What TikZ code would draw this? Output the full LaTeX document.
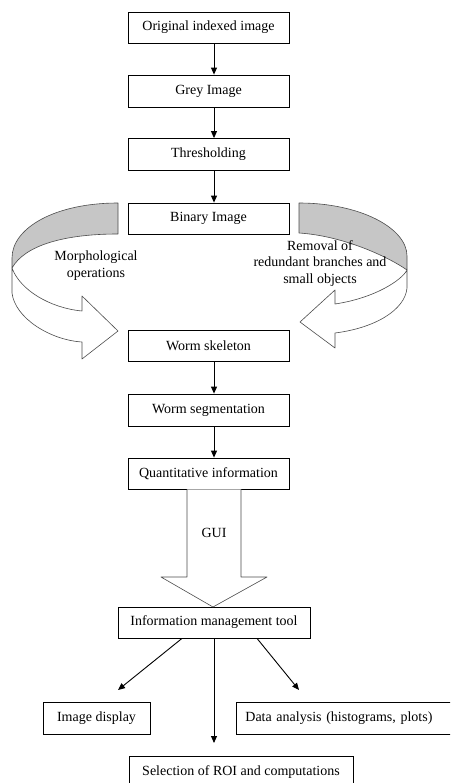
\documentclass[tikz,border=0pt]{standalone}
\usepackage{fontspec}
\setmainfont{Liberation Serif}
\usetikzlibrary{arrows.meta,calc}
\begin{document}
\begin{tikzpicture}[x=1pt,y=-1pt,
  box/.style={draw=black, line width=0.8pt, inner sep=0pt, font=\fontsize{14}{16.8}\selectfont},
  flow/.style={draw=black, line width=0.9pt, -{Triangle[width=6pt,length=7pt]}},
  ribbon/.style={draw=black!70, line width=0.6pt, line join=round},
  lbl/.style={align=center, font=\fontsize{14}{16.8}\selectfont, inner sep=0pt}]
\useasboundingbox (0,0) rectangle (450,783);
\clip (0,0) rectangle (450,783);

% main column
\node[box, minimum width=161pt, minimum height=31pt] (orig)  at (208.5,27.5)  {Original indexed image};
\node[box, minimum width=161pt, minimum height=32pt] (grey)  at (208.5,91)    {Grey Image};
\node[box, minimum width=161pt, minimum height=32pt] (thr)   at (208.5,154.5) {Thresholding};
\node[box, minimum width=161pt, minimum height=31pt] (bin)   at (208.5,218.5) {Binary Image};
\node[box, minimum width=161pt, minimum height=31pt] (skel)  at (208.5,345.5) {Worm skeleton};
\node[box, minimum width=161pt, minimum height=32pt] (seg)   at (208.5,410)   {Worm segmentation};
\node[box, minimum width=161pt, minimum height=31pt] (quant) at (208.5,473.5) {Quantitative information};
\node[box, minimum width=192pt, minimum height=31pt] (info)  at (214,622.5)   {Information management tool};
\node[box, minimum width=107pt, minimum height=32pt] (img)   at (96.5,718)    {Image display};
\node[box, anchor=west, inner xsep=9pt, text width=198pt, align=left, minimum height=32pt] (data) at (236,718) {Data analysis (histograms, plots)};
\node[box, minimum width=224pt, minimum height=32pt] (sel)   at (241,772)     {Selection of ROI and computations};

% straight connectors
\coordinate (ax) at (214,0);
\draw[flow] (orig.south -| ax) -- (grey.north -| ax);
\draw[flow] (grey.south -| ax) -- (thr.north -| ax);
\draw[flow] (thr.south -| ax) -- (bin.north -| ax);
\draw[flow] (skel.south -| ax) -- (seg.north -| ax);
\draw[flow] (seg.south -| ax) -- (quant.north -| ax);

\coordinate (xL) at (182,0);
\coordinate (xR) at (257,0);
\coordinate (tipL) at (118,690);
\coordinate (tipM) at (214,743);
\coordinate (tipR) at (299,690);
\draw[flow] (info.south -| xL) -- (tipL);
\draw[flow] (info.south -| ax) -- (tipM);
\draw[flow] (info.south -| xR) -- (tipR);

% GUI block arrow
\draw[ribbon, fill=white] (187,489.4) -- (187,577) -- (161,577) -- (213,607) -- (267,577) -- (241,577) -- (241,489.4);
\node[lbl] (gui) at (214,533) {GUI};

% left curved ribbon arrow
\draw[ribbon, fill=gray!45] (118,203) .. controls (55,203) and (12,228) .. (12,258)
   -- (12,268) .. controls (25,245) and (65,234) .. (118,234) -- cycle;
\draw[ribbon, fill=white] (12,268) -- (12,293) .. controls (15,318) and (50,340) .. (82,342)
   -- (82,359) -- (118,331) -- (82,296) -- (82,311)
   .. controls (50,308) and (20,290) .. (12,268) -- cycle;
\node[lbl] (morph) at (96,266) {Morphological\\operations};

% right curved ribbon arrow
\draw[ribbon, fill=gray!45] (299,203) .. controls (360,203) and (407,228) .. (407,256)
   -- (407,270) .. controls (390,258) and (345,236) .. (299,233) -- cycle;
\draw[ribbon, fill=white] (407,270) .. controls (402,280) and (375,298) .. (335,304)
   -- (335,290) -- (300,322) -- (335,348) -- (335,333)
   .. controls (375,328) and (405,310) .. (407,288) -- cycle;
\node[lbl] (remov) at (320,263.5) {Removal of\\redundant branches and\\small objects};
\end{tikzpicture}
\end{document}
